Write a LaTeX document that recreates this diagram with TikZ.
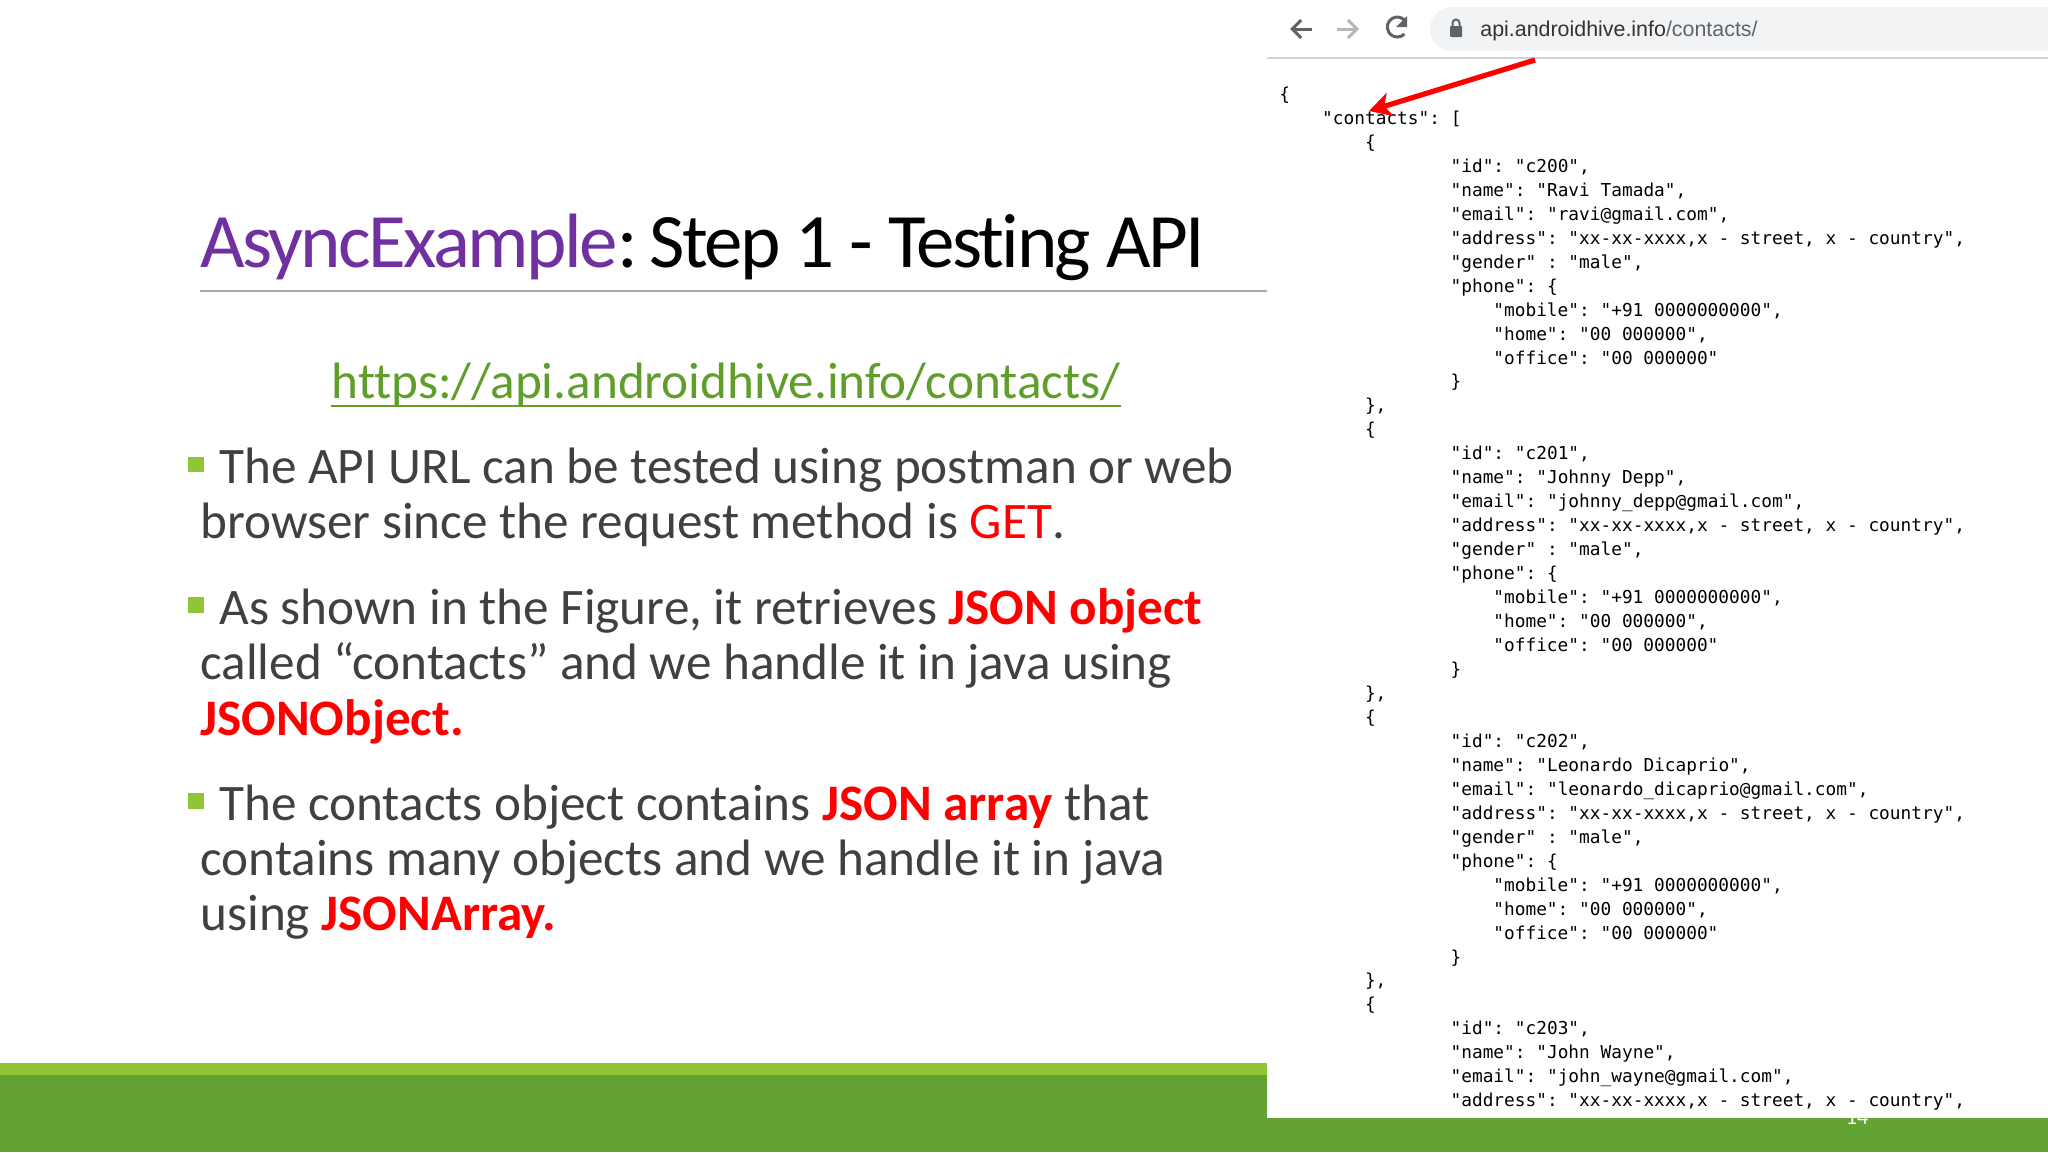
\documentclass[tikz,border=0pt]{standalone}
\usepackage{fontspec}
\setmainfont{Carlito}[Ligatures=CommonOff]
\newfontfamily\titlefont{Carlito}[Ligatures=CommonOff,LetterSpace=-3.3]
\setsansfont{Liberation Sans}
\setmonofont{DejaVu Sans Mono}
\usetikzlibrary{arrows.meta}
\definecolor{bandgreen}{HTML}{62A333}
\definecolor{lightgreen}{HTML}{90C634}
\definecolor{linkgreen}{HTML}{5F9E2B}
\definecolor{titlepurple}{HTML}{7030A0}
\definecolor{bodygray}{HTML}{404040}
\definecolor{rulegray}{HTML}{A8A8A8}
\definecolor{urlbar}{HTML}{F1F3F4}
\definecolor{iconback}{HTML}{5F6368}
\definecolor{iconfwd}{HTML}{B4B7BA}
\newcommand\ind[1]{\hspace*{#1\dimexpr 5.35pt\relax}}
\newcommand\red[1]{\textcolor{red}{#1}}
\newcommand\redb[1]{\textcolor{red}{\bfseries #1}}
\newcommand\jsonblock[3]{%
\ind{8}\{\\
\ind{16}"id": "#1",\\
\ind{16}"name": "#2",\\
\ind{16}"email": "#3",\\
\ind{16}"address": "xx-xx-xxxx,x - street, x - country",\\
\ind{16}"gender" : "male",\\
\ind{16}"phone": \{\\
\ind{20}"mobile": "+91 0000000000",\\
\ind{20}"home": "00 000000",\\
\ind{20}"office": "00 000000"\\
\ind{16}\}\\
\ind{8}\},\\}
\tikzset{
  bodyline/.style={anchor=base west,inner sep=0pt,text=bodygray,font=\fontsize{25.6}{30}\selectfont},
  bulletmark/.style={fill=lightgreen,draw=none,minimum width=8pt,minimum height=7.6pt,inner sep=0pt},
  navicon/.style={line width=1.5pt,-{Straight Barb[length=4.5pt,width=9pt,line width=1.5pt]}}
}
\begin{document}
\begin{tikzpicture}[x=0.5pt,y=-0.5pt]
\useasboundingbox (0,0) rectangle (2048,1152);
\fill[white] (0,0) rectangle (2048,1152);
% bottom bands
\fill[bandgreen] (0,1075) rectangle (2048,1152);
\fill[lightgreen] (0,1063) rectangle (1267,1075);
\node[text=white,inner sep=0pt,font=\fontsize{11}{13}\selectfont] (pagenum) at (1857,1117) {14};
% screenshot
\fill[white] (1267,0) rectangle (2048,1118);
\fill[urlbar,rounded corners=11pt] (1430,7) rectangle (2070,51);
\draw[rulegray!50,line width=1pt] (1267,58) -- (2048,58);
% browser icons
\coordinate (backA) at (1312,29); \coordinate (backB) at (1290,29);
\draw[navicon,draw=iconback] (backA) -- (backB);
\coordinate (fwdA) at (1337,29); \coordinate (fwdB) at (1359,29);
\draw[navicon,draw=iconfwd] (fwdA) -- (fwdB);
\draw[draw=iconback,line width=1.5pt] (1406,22) arc[start angle=-30,end angle=-315,radius=10];
\fill[iconback] (1407,16) -- (1407,27) -- (1396,27) -- cycle;
\fill[iconback,rounded corners=0.5pt] (1450,26) rectangle (1462,37);
\draw[iconback,line width=1pt] (1452.5,26) -- (1452.5,23) arc[start angle=180,end angle=360,radius=3.5] -- (1459.5,26);
\node[anchor=base west,inner sep=0pt,font=\sffamily\fontsize{10.7}{12}\selectfont] (urltext) at (1480,36) {\textcolor{black!80}{api.androidhive.info}\textcolor{iconback}{/contacts/}};
% JSON
\node[anchor=north west,inner sep=0pt,align=left,font=\ttfamily\fontsize{8.9}{11.98}\selectfont] (json) at (1279,86.5) {%
\{\\
\ind{4}"contacts": [\\
\jsonblock{c200}{Ravi Tamada}{ravi@gmail.com}%
\jsonblock{c201}{Johnny Depp}{johnny\_depp@gmail.com}%
\jsonblock{c202}{Leonardo Dicaprio}{leonardo\_dicaprio@gmail.com}%
\ind{8}\{\\
\ind{16}"id": "c203",\\
\ind{16}"name": "John Wayne",\\
\ind{16}"email": "john\_wayne@gmail.com",\\
\ind{16}"address": "xx-xx-xxxx,x - street, x - country",};
% red arrow
\coordinate (arrowstart) at (1535,60);
\coordinate (arrowtip) at (1369,111);
\draw[red,line width=2.6pt,-{Stealth[length=11pt,width=12pt,inset=3pt]}] (arrowstart) -- (arrowtip);
% title
\node[anchor=base west,inner sep=0pt,font=\titlefont\fontsize{38.5}{44}\selectfont] (title) at (200,267) {\textcolor{titlepurple}{AsyncExample}:\hspace{-4.5pt} Step 1 - Testing API};
\draw[rulegray,line width=1pt] (200,291) -- (1267,291);
% url
\node[anchor=base,inner sep=0pt,text=linkgreen,font=\fontsize{25.6}{30}\selectfont] (url) at (726,398) {https://api.androidhive.info/contacts/};
\draw[linkgreen,line width=1pt] ([yshift=-4pt]url.base west) -- ([yshift=-4pt]url.base east);
% bullets
\node[bulletmark] (b1) at (196,464.5) {};
\node[bulletmark] (b2) at (196,605) {};
\node[bulletmark] (b3) at (196,801) {};
% body
\node[bodyline] (l1) at (219,483) {The API URL can be tested using postman or web};
\node[bodyline] (l2) at (200,538) {browser since the request method is \red{GET}.};
\node[bodyline] (l3) at (219,624) {As shown in the Figure, it retrieves \redb{JSON object}};
\node[bodyline] (l4) at (200,679) {called “contacts” and we handle it in java using};
\node[bodyline] (l5) at (200,735) {\redb{JSONObject.}};
\node[bodyline] (l6) at (219,820) {The contacts object contains \redb{JSON array} that};
\node[bodyline] (l7) at (200,875) {contains many objects and we handle it in java};
\node[bodyline] (l8) at (200,930) {using \redb{JSONArray.}};
\end{tikzpicture}
\end{document}
